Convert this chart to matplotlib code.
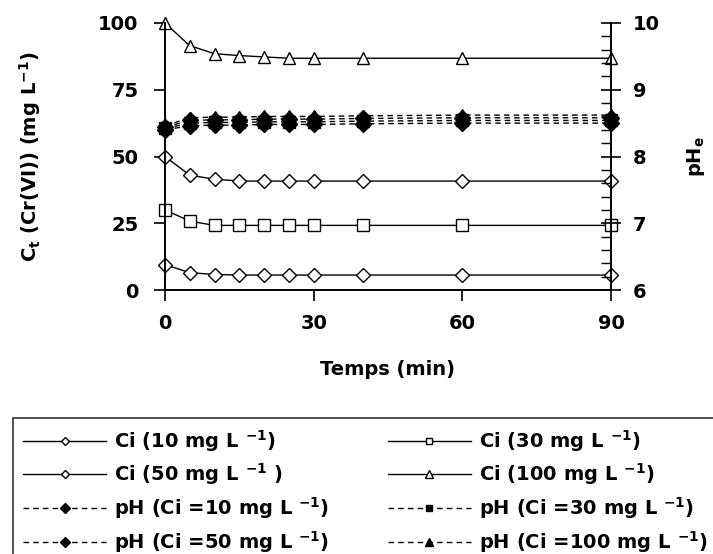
import matplotlib
matplotlib.use("Agg")
import matplotlib.pyplot as plt
from matplotlib.ticker import MultipleLocator

plt.rcParams['font.family'] = ['DejaVu Sans']
plt.rcParams['font.weight'] = 'bold'
plt.rcParams['mathtext.fontset'] = 'custom'
plt.rcParams['mathtext.rm'] = 'DejaVu Sans:bold'
plt.rcParams['mathtext.bf'] = 'DejaVu Sans:bold'
plt.rcParams['mathtext.it'] = 'DejaVu Sans:bold'
plt.rcParams['mathtext.default'] = 'bf'

# time (min)
temps = [0, 5, 10, 15, 20, 25, 30, 40, 60, 90]

# residual Cr(VI) concentration (mg/L)
ct_10 = [9.5, 6.5, 5.8, 5.6, 5.6, 5.6, 5.6, 5.6, 5.6, 5.6]
ct_30 = [30, 25.8, 24.2, 24.2, 24.2, 24.2, 24.2, 24.2, 24.2, 24.2]
ct_50 = [50, 43, 41.5, 40.8, 40.8, 40.8, 40.8, 40.8, 40.8, 40.8]
ct_100 = [100, 91.5, 88.5, 87.8, 87.3, 86.8, 86.8, 86.8, 86.8, 86.8]

# equilibrium pH
ph_10 = [8.40, 8.46, 8.47, 8.47, 8.48, 8.48, 8.48, 8.49, 8.50, 8.50]
ph_30 = [8.42, 8.50, 8.51, 8.51, 8.52, 8.52, 8.52, 8.53, 8.54, 8.54]
ph_50 = [8.44, 8.54, 8.55, 8.55, 8.56, 8.56, 8.56, 8.57, 8.58, 8.58]
ph_100 = [8.46, 8.58, 8.59, 8.59, 8.60, 8.60, 8.60, 8.61, 8.62, 8.62]

lab_ct = ["Ci (10 mg L $^{-1}$)", "Ci (30 mg L $^{-1}$)",
          "Ci (50 mg L $^{-1}$ )", "Ci (100 mg L $^{-1}$)"]
lab_ph = ["pH (Ci =10 mg L $^{-1}$)", "pH (Ci =30 mg L $^{-1}$)",
          "pH (Ci =50 mg L $^{-1}$)", "pH (Ci =100 mg L $^{-1}$)"]

fig = plt.figure(figsize=(7.13, 5.54), dpi=100)
ax = fig.add_axes([165 / 713, 1 - 290 / 554, 446 / 713, 267 / 554])
ax2 = ax.twinx()

open_kw = dict(color='black', lw=1, mfc='white', mec='black', mew=1)
l10, = ax.plot(temps, ct_10, marker='D', ms=7, label=lab_ct[0], **open_kw)
l30, = ax.plot(temps, ct_30, marker='s', ms=8, label=lab_ct[1], **open_kw)
l50, = ax.plot(temps, ct_50, marker='D', ms=7, label=lab_ct[2], **open_kw)
l100, = ax.plot(temps, ct_100, marker='^', ms=9, label=lab_ct[3], **open_kw)

dash = (0, (4, 3))
fill_kw = dict(color='black', lw=1, ls=dash, mfc='black', mec='black')
p10, = ax2.plot(temps, ph_10, marker='D', ms=8, label=lab_ph[0], **fill_kw)
p30, = ax2.plot(temps, ph_30, marker='s', ms=8, label=lab_ph[1], **fill_kw)
p50, = ax2.plot(temps, ph_50, marker='D', ms=8, label=lab_ph[2], **fill_kw)
p100, = ax2.plot(temps, ph_100, marker='^', ms=9, label=lab_ph[3], **fill_kw)

ax.set_xlim(0, 90)
ax.set_ylim(0, 100)
ax2.set_ylim(6, 10)
ax.set_xticks([0, 30, 60, 90])
ax.set_yticks([0, 25, 50, 75, 100])
ax2.set_yticks([6, 7, 8, 9, 10])
ax2.yaxis.set_minor_locator(MultipleLocator(0.2))

for a in (ax, ax2):
    a.spines['top'].set_visible(False)
    for s in a.spines.values():
        s.set_linewidth(1.2)
ax.tick_params(axis='y', direction='out', length=8, width=1.2,
               labelsize=14, pad=11)
ax.tick_params(axis='x', direction='out', length=8, width=1.2,
               labelsize=14, pad=9)
ax2.tick_params(axis='y', which='major', direction='inout', length=15,
                width=1.2, labelsize=14, pad=8)
ax2.tick_params(axis='y', which='minor', direction='in', length=7, width=1)

ax.set_xlabel("Temps (min)", fontsize=14, fontweight='bold', labelpad=20)
ax.set_ylabel("C$_t$ (Cr(VI)) (mg L$^{-1}$)", fontsize=14, fontweight='bold',
              labelpad=40)
ax2.set_ylabel("pH$_e$", fontsize=14, fontweight='bold', labelpad=18)

for m in (l10, l30, l50, l100, p10, p30, p50, p100):
    m.set_clip_on(False)

handles = [l10, l50, p10, p50, l30, l100, p30, p100]
leg = fig.legend(handles, [h.get_label() for h in handles], ncol=2,
                 loc='upper left', bbox_to_anchor=(13 / 713, 1 - 418 / 554),
                 frameon=True, fancybox=False, edgecolor='black',
                 fontsize=14, handlelength=4.3, handletextpad=0.4,
                 labelspacing=0.4, borderpad=0.5, borderaxespad=0,
                 columnspacing=3.0, markerscale=0.6)
leg.get_frame().set_linewidth(1.2)

fig.savefig("out.png", dpi=100)
